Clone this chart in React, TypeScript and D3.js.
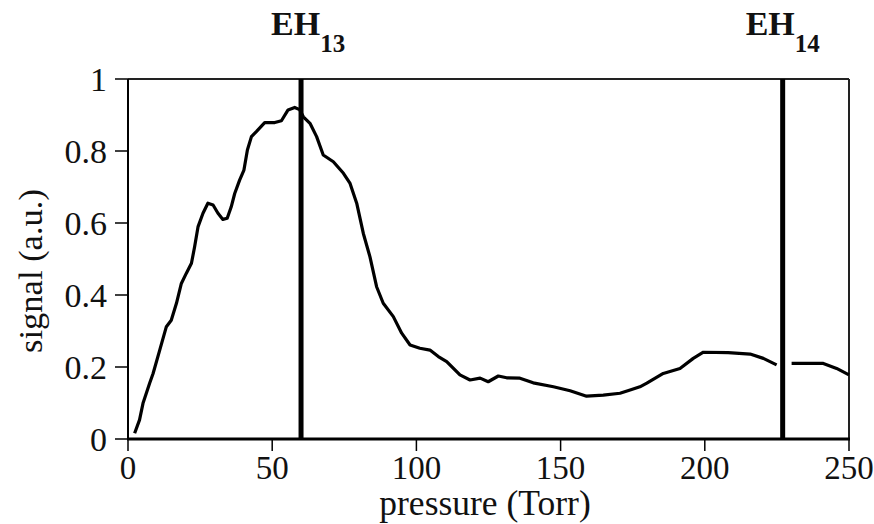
import React from "react";
import * as d3 from "d3";

const pressure: number[] = [
  2.3, 4.0, 5.2, 7.5, 8.7, 11.0, 13.3, 15.0, 16.8, 18.5, 20.2, 22.0, 23.1, 24.3, 26.0, 27.7,
  29.5, 31.2, 32.9, 34.4, 35.8, 37.0, 38.7, 40.2, 41.4, 42.8, 44.5, 47.4, 50.9, 53.2, 55.5,
  57.8, 59.5, 60.8, 63.1, 65.4, 67.7, 71.2, 74.7, 77.0, 79.3, 81.6, 83.9, 86.2, 88.5, 92.0,
  94.9, 97.8, 101.2, 104.7, 107.6, 110.5, 115.1, 118.6, 122.1, 124.9, 128.4, 131.3, 135.9,
  140.5, 147.5, 153.3, 159.0, 164.8, 170.6, 174.1, 177.5, 179.9, 185.6, 191.4, 196.0, 199.5,
  208.1, 215.7, 220.3, 224.9, 227.0, 230.1, 241.1, 245.7, 250.0,
];
const signal: (number | null)[] = [
  0.016, 0.053, 0.099, 0.155, 0.182, 0.247, 0.312, 0.33, 0.377, 0.432, 0.46, 0.488, 0.534,
  0.59, 0.627, 0.655, 0.65, 0.627, 0.61, 0.613, 0.645, 0.682, 0.719, 0.747, 0.803, 0.84,
  0.854, 0.879, 0.879, 0.884, 0.914, 0.921, 0.915, 0.895, 0.877, 0.84, 0.789, 0.77, 0.738,
  0.71, 0.655, 0.571, 0.506, 0.423, 0.377, 0.34, 0.294, 0.261, 0.252, 0.247, 0.229, 0.215,
  0.178, 0.164, 0.169, 0.159, 0.175, 0.17, 0.169, 0.156, 0.145, 0.134, 0.119, 0.122, 0.127,
  0.136, 0.145, 0.155, 0.182, 0.196, 0.224, 0.241, 0.24, 0.236, 0.224, 0.206, null, 0.21,
  0.21, 0.196, 0.178,
];

const xTicks = [0, 50, 100, 150, 200, 250];
const yTicks = [0, 0.2, 0.4, 0.6, 0.8, 1];
const yTickLabels = ["0", "0.2", "0.4", "0.6", "0.8", "1"];

const markerPositions = [60, 227];
const markerNames = ["EH", "EH"];
const markerSubs = ["13", "14"];
const markerLabelOffsets = [-30, -37];

const xLabel = "pressure (Torr)";
const yLabel = "signal (a.u.)";

const FONT = "'Liberation Serif', 'Times New Roman', serif";

export default function App() {
  const W = 874;
  const H = 524;
  const left = 128, right = 849, top = 79, bottom = 439;
  const x = d3.scaleLinear().domain([0, 250]).range([left, right]);
  const y = d3.scaleLinear().domain([0, 1]).range([bottom, top]);

  const pts = pressure.map((p, i) => [p, signal[i]] as [number, number | null]);
  const line = d3
    .line<[number, number | null]>()
    .defined((d) => d[1] !== null)
    .x((d) => x(d[0]))
    .y((d) => y(d[1] as number));

  return (
    <svg
      width={W}
      height={H}
      style={{ position: "absolute", left: 0, top: 0, background: "#fff" }}
      fontFamily={FONT}
    >
      {/* frame */}
      <line x1={left} x2={right} y1={top} y2={top} stroke="#222" strokeWidth={2} />
      <line x1={right} x2={right} y1={top} y2={bottom} stroke="#222" strokeWidth={2} />
      <line x1={left} x2={left} y1={top} y2={bottom + 1} stroke="#000" strokeWidth={2} />
      <line x1={left - 1} x2={right + 1} y1={bottom} y2={bottom} stroke="#000" strokeWidth={3} />

      {/* y ticks */}
      {yTicks.map((t, i) => (
        <g key={"y" + i}>
          <line x1={left - 13} x2={left} y1={y(t)} y2={y(t)} stroke="#000" strokeWidth={1.5} />
          <text x={107} y={y(t)} dy="0.35em" textAnchor="end" fontSize={34} fill="#111">
            {yTickLabels[i]}
          </text>
        </g>
      ))}

      {/* x ticks */}
      {xTicks.map((t, i) => (
        <g key={"x" + i}>
          <line x1={x(t)} x2={x(t)} y1={bottom} y2={bottom + 12} stroke="#000" strokeWidth={1.5} />
          <text x={x(t)} y={479} textAnchor="middle" fontSize={33} fill="#111">
            {t}
          </text>
        </g>
      ))}

      {/* curve */}
      <path d={line(pts) || ""} fill="none" stroke="#000" strokeWidth={3.2} strokeLinejoin="round" />

      {/* markers */}
      {markerPositions.map((m, i) => (
        <g key={"m" + i}>
          <line x1={x(m)} x2={x(m)} y1={top} y2={bottom} stroke="#000" strokeWidth={5} />
          <text x={x(m) + markerLabelOffsets[i]} y={35} fontSize={34} fontWeight="bold" fill="#111">
            {markerNames[i]}
            <tspan dy={17} fontSize={25}>
              {markerSubs[i]}
            </tspan>
          </text>
        </g>
      ))}

      {/* axis titles */}
      <text x={485} y={515} textAnchor="middle" fontSize={35.5} fill="#111">
        {xLabel}
      </text>
      <text
        transform={`translate(42,271) rotate(-90)`}
        textAnchor="middle"
        fontSize={34.5}
        fill="#111"
      >
        {yLabel}
      </text>
    </svg>
  );
}
